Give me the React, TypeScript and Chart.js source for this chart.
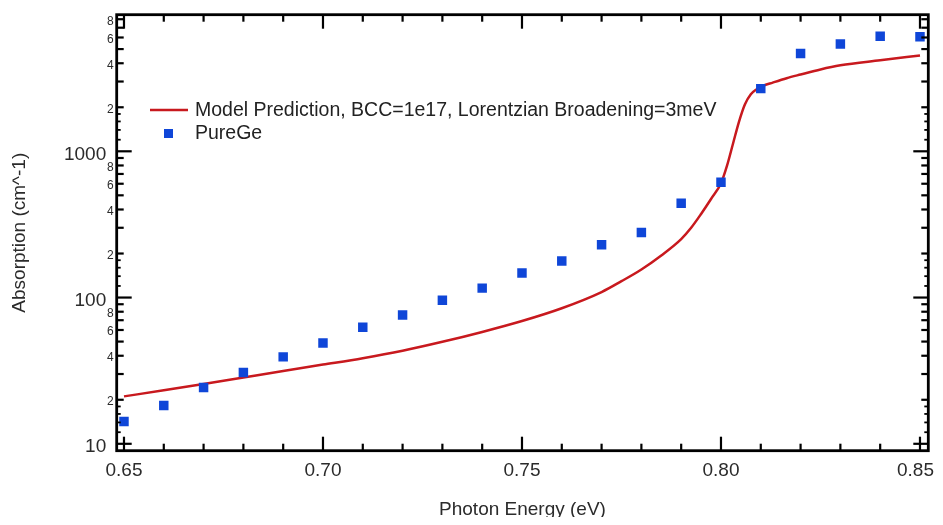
import React, { useEffect, useRef } from "react";
import { Chart, registerables } from "chart.js";

Chart.register(...registerables);

const FONT = "'Liberation Sans', Arial, sans-serif";
const TEXT = "#2b2b2b";
const RED = "#c8191e";
const BLUE = "#0f46d8";

// PureGe measured absorption (cm^-1) vs photon energy (eV)
const photonEnergy = [0.65, 0.66, 0.67, 0.68, 0.69, 0.70, 0.71, 0.72, 0.73, 0.74, 0.75, 0.76, 0.77, 0.78, 0.79, 0.80, 0.81, 0.82, 0.83, 0.84, 0.85];
const pureGeAbsorption = [14.2, 18.3, 24.3, 30.7, 39.3, 48.9, 62.7, 76.0, 96.0, 116, 147, 178, 230, 278, 441, 614, 2682, 4667, 5420, 6110, 6080];

// Model prediction curve
const modelEnergy = [0.65, 0.66, 0.67, 0.68, 0.69, 0.70, 0.71, 0.72, 0.73, 0.74, 0.75, 0.76, 0.77, 0.775, 0.78, 0.785, 0.79, 0.7925, 0.795, 0.7975, 0.80, 0.8015, 0.803, 0.8045, 0.806, 0.8075, 0.809, 0.8105, 0.813, 0.8165, 0.82, 0.825, 0.83, 0.84, 0.85];
const modelAbsorption = [21.1, 23.2, 25.6, 28.4, 31.5, 34.8, 38.5, 43.3, 49.8, 58.2, 69.1, 84.5, 109, 129.4, 155.6, 194, 251, 300, 373, 472, 605, 794, 1122, 1585, 2090, 2455, 2660, 2800, 2950, 3160, 3350, 3630, 3870, 4190, 4520];

const modelLabel = "Model Prediction, BCC=1e17, Lorentzian Broadening=3meV";
const dataLabel = "PureGe";

// Axis ticks
const xTickValues = [0.65, 0.66, 0.67, 0.68, 0.69, 0.70, 0.71, 0.72, 0.73, 0.74, 0.75, 0.76, 0.77, 0.78, 0.79, 0.80, 0.81, 0.82, 0.83, 0.84, 0.85];
const xLabelTicks = [0.65, 0.70, 0.75, 0.80, 0.85];
const yMajorTicks = [10, 100, 1000];
const yMinorTicks = [20, 30, 40, 50, 60, 70, 80, 90, 200, 300, 400, 500, 600, 700, 800, 900, 2000, 3000, 4000, 5000, 6000, 7000, 8000];
const yLabeledMinor = [20, 40, 60, 80, 200, 400, 600, 800, 2000, 4000, 6000, 8000];
const ySubMinorTicks = [12, 14, 16, 18, 120, 140, 160, 180, 1200, 1400, 1600, 1800];

const X_MIN = 0.64817;
const X_MAX = 0.85209;
const Y_MIN = 8.97;
const Y_MAX = 8590;

const isXLabel = (v: number) => xLabelTicks.some((t) => Math.abs(t - v) < 1e-6);

const framePlugin = {
  id: "frame",
  afterDraw(chart: any) {
    const { ctx, chartArea: a, scales } = chart;
    const x = scales.x;
    const y = scales.y;
    ctx.save();
    ctx.strokeStyle = "#000";
    ctx.lineCap = "butt";
    const seg = (x1: number, y1: number, x2: number, y2: number, w: number) => {
      ctx.lineWidth = w;
      ctx.beginPath();
      ctx.moveTo(x1, y1);
      ctx.lineTo(x2, y2);
      ctx.stroke();
    };
    // x ticks (bottom and top, inward)
    for (const t of x.ticks) {
      const px = x.getPixelForValue(t.value);
      const len = isXLabel(t.value) ? 14 : 7;
      seg(px, a.bottom, px, a.bottom - len, 2.2);
      seg(px, a.top, px, a.top + len, 2.2);
    }
    // y ticks (left and right, inward)
    for (const t of y.ticks) {
      const py = y.getPixelForValue(t.value);
      const major = yMajorTicks.includes(t.value);
      const len = major ? 15 : 7;
      seg(a.left, py, a.left + len, py, 2.2);
      seg(a.right, py, a.right - len, py, 2.2);
    }
    for (const v of ySubMinorTicks) {
      const py = y.getPixelForValue(v);
      seg(a.left, py, a.left + 4, py, 1.8);
      seg(a.right, py, a.right - 4, py, 1.8);
    }
    // frame
    ctx.lineWidth = 2.8;
    ctx.strokeRect(a.left, a.top, a.right - a.left, a.bottom - a.top);

    // x tick labels (kept inside the canvas)
    ctx.fillStyle = TEXT;
    ctx.font = `19px ${FONT}`;
    ctx.textAlign = "center";
    ctx.textBaseline = "middle";
    for (const t of x.ticks) {
      if (!isXLabel(t.value)) continue;
      const label = Number(t.value).toFixed(2);
      const w = ctx.measureText(label).width;
      const px = Math.min(x.getPixelForValue(t.value), chart.width - 1 - w / 2);
      ctx.fillText(label, px, a.bottom + 20);
    }

    // y tick labels
    ctx.textAlign = "right";
    for (const t of y.ticks) {
      const py = y.getPixelForValue(t.value);
      if (yMajorTicks.includes(t.value)) {
        ctx.font = `19px ${FONT}`;
        ctx.fillText(String(t.value), a.left - 10.5, py + 3);
      } else if (yLabeledMinor.includes(t.value)) {
        const lead = String(t.value).charAt(0);
        ctx.font = `12px ${FONT}`;
        ctx.fillText(lead, a.left - 3, py + 2);
      }
    }

    // legend
    const ds0 = chart.data.datasets[0];
    const ds1 = chart.data.datasets[1];
    ctx.textAlign = "left";
    ctx.font = `19.5px ${FONT}`;
    ctx.fillStyle = "#222";
    ctx.strokeStyle = ds0.borderColor;
    seg(142, 102, 180, 102, 2.5);
    ctx.fillText(ds0.label, 187, 103);
    ctx.fillStyle = ds1.backgroundColor;
    ctx.fillRect(156, 121, 9, 9);
    ctx.fillStyle = "#222";
    ctx.fillText(ds1.label, 187, 126);
    ctx.restore();
  },
};

export default function App() {
  const canvasRef = useRef<HTMLCanvasElement | null>(null);

  useEffect(() => {
    const canvas = canvasRef.current;
    if (!canvas) return;
    const chart = new Chart(canvas, {
      type: "line",
      data: {
        datasets: [
          {
            label: modelLabel,
            data: modelEnergy.map((e, i) => ({ x: e, y: modelAbsorption[i] })),
            borderColor: RED,
            backgroundColor: RED,
            borderWidth: 2.5,
            pointRadius: 0,
            fill: false,
            cubicInterpolationMode: "monotone",
            order: 2,
          },
          {
            label: dataLabel,
            data: photonEnergy.map((e, i) => ({ x: e, y: pureGeAbsorption[i] })),
            showLine: false,
            pointStyle: "rect",
            pointRadius: 6.7,
            pointBorderWidth: 0,
            borderWidth: 0,
            backgroundColor: BLUE,
            borderColor: BLUE,
            order: 1,
          },
        ],
      },
      options: {
        animation: false,
        responsive: true,
        maintainAspectRatio: false,
        layout: { padding: { top: 1.5, right: 6.7, left: 0, bottom: 0 } },
        plugins: { legend: { display: false }, tooltip: { enabled: false } },
        scales: {
          x: {
            type: "linear",
            min: X_MIN,
            max: X_MAX,
            afterBuildTicks: (s: any) => {
              s.ticks = xTickValues.map((v) => ({ value: v }));
            },
            afterFit: (s: any) => {
              s.height = 66.3;
              s.paddingLeft = 0;
              s.paddingRight = 0;
            },
            grid: { display: false, drawTicks: false },
            border: { display: false },
            ticks: { display: false },
            title: {
              display: true,
              text: "Photon Energy (eV)",
              color: TEXT,
              font: { family: FONT, size: 19, lineHeight: 0.8 },
              padding: 0,
            },
          },
          y: {
            type: "logarithmic",
            min: Y_MIN,
            max: Y_MAX,
            afterBuildTicks: (s: any) => {
              s.ticks = [...yMajorTicks, ...yMinorTicks].sort((p, q) => p - q).map((v) => ({ value: v }));
            },
            afterFit: (s: any) => {
              s.width = 108.7;
              s.paddingTop = 0;
              s.paddingBottom = 0;
            },
            grid: { display: false, drawTicks: false },
            border: { display: false },
            ticks: { display: false },
            title: {
              display: true,
              text: "Absorption (cm^-1)",
              color: TEXT,
              font: { family: FONT, size: 19, lineHeight: 0.8 },
              padding: { top: 4, bottom: 0 },
            },
          },
        },
      },
      plugins: [framePlugin],
    } as any);
    return () => chart.destroy();
  }, []);

  return (
    <div style={{ position: "relative", width: "927px", height: "509px" }}>
      <canvas ref={canvasRef} />
    </div>
  );
}
